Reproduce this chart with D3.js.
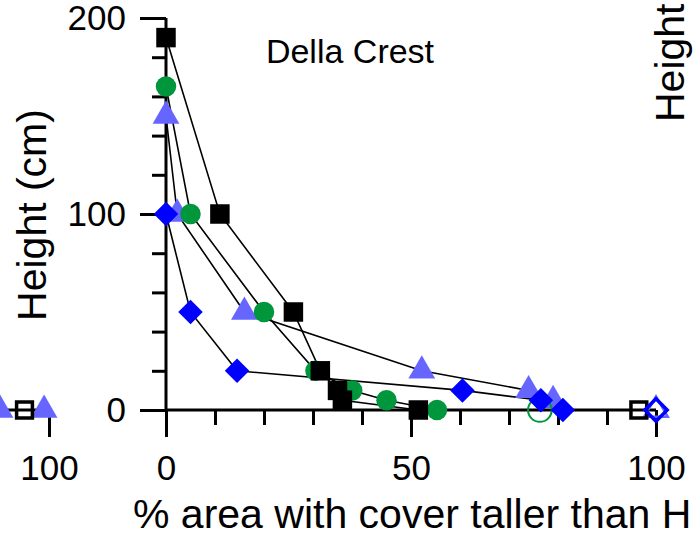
<!DOCTYPE html>
<html>
<head>
<meta charset="utf-8">
<script src="https://cdn.jsdelivr.net/npm/d3@7"></script>
<style>
body { margin: 0; background: white; }
svg { display: block; font-family: "Liberation Sans", Arial, sans-serif; }
</style>
</head>
<body>
<svg width="698" height="538"></svg>
<script>
// % area with cover taller than H, at each height H (cm)
var blackPct   = [[0,190],[11,100],[26,50],[31.5,20],[35,10],[36,5],[51.5,0]];
var greenPct   = [[0,165],[5,100],[20,50],[30.5,20],[38,10],[45,5],[55.3,0]];
var trianglePct = [[0,150],[2.3,100],[16,50],[52.2,20],[74,10],[79,5]];
var diamondPct = [[0,100],[5,50],[14.5,20],[60.5,10],[76.5,5],[81,0]];
// open symbols (not joined)
var blackOpen = [[96.5,0]];
var greenOpen = [[76.3,0]];
var triangleOpen = [[100,0]];
var diamondOpen = [[100,0]];
// neighbouring panel, cut off at the left edge
var leftSquareOpen = [[95,0]];
var leftTriangle = [[90,0],[99,0]];

var xTicks = [0, 50, 100];
var yTicks = [0, 100, 200];
var title = "Della Crest";

var svg = d3.select("svg");
var x = d3.scaleLinear().domain([0,100]).range([166,656]);
var y = d3.scaleLinear().domain([0,200]).range([410,18]);
var xLeft = d3.scaleLinear().domain([0,100]).range([49-490,49]);

var colors = {black:"#000000", green:"#00963c", tri:"#6666ff", dia:"#0000ff"};

// axes
function styleAxis(g){
	g.select(".domain").remove();
	g.selectAll(".tick line").attr("stroke","black").attr("stroke-width",3);
	g.selectAll(".tick text").attr("font-size",35).attr("fill","black")
		.attr("font-family","Liberation Sans, Arial, sans-serif");
}

svg.append("g").attr("transform","translate(0,410)")
	.call(d3.axisBottom(x).tickValues([10,20,30,40,60,70,80,90]).tickSize(15).tickFormat(""))
	.call(styleAxis);
svg.append("g").attr("transform","translate(0,410)")
	.call(d3.axisBottom(x).tickValues(xTicks).tickSize(27).tickPadding(18))
	.call(styleAxis);
svg.append("g").attr("transform","translate(166,0)")
	.call(d3.axisLeft(y).tickValues([20,40,60,80,120,140,160,180]).tickSize(14).tickFormat(""))
	.call(styleAxis);
svg.append("g").attr("transform","translate(166,0)")
	.call(d3.axisLeft(y).tickValues(yTicks).tickSize(26).tickPadding(14))
	.call(styleAxis);

svg.append("line").attr("x1",x(0)).attr("x2",x(100)).attr("y1",y(0)).attr("y2",y(0))
	.attr("stroke","black").attr("stroke-width",3);
svg.append("line").attr("x1",x(0)).attr("x2",x(0)).attr("y1",y(200)).attr("y2",y(0))
	.attr("stroke","black").attr("stroke-width",3);

// left neighbour axis piece
svg.append("g").attr("transform","translate(0,410)")
	.call(d3.axisBottom(xLeft).tickValues([100]).tickSize(27).tickPadding(18))
	.call(styleAxis);
svg.append("line").attr("x1",0).attr("x2",xLeft(100)).attr("y1",y(0)).attr("y2",y(0))
	.attr("stroke","black").attr("stroke-width",3);

// labels
svg.append("text").attr("x",350).attr("y",63).attr("text-anchor","middle")
	.attr("font-size",34).text(title);
svg.append("text").attr("x",133).attr("y",528).attr("font-size",41)
	.text("% area with cover taller than H");
svg.append("text").attr("transform","translate(46,215) rotate(-90)")
	.attr("text-anchor","middle").attr("font-size",41).text("Height (cm)");
svg.append("text").attr("transform","translate(684,122) rotate(-90)")
	.attr("font-size",41).text("Height");

// lines
var line = d3.line().x(d => x(d[0])).y(d => y(d[1]));
[blackPct, greenPct, trianglePct, diamondPct].forEach(function(s){
	svg.append("path").attr("d", line(s)).attr("fill","none")
		.attr("stroke","black").attr("stroke-width",1.6);
});

function sym(type, size){ return d3.symbol().type(type).size(size)(); }

function drawPts(data, sx, shape, size, fill, stroke, sw){
	svg.append("g").selectAll("path").data(data).enter().append("path")
		.attr("transform", d => "translate(" + sx(d[0]) + "," + y(d[1]) + ")" + (shape==="dia" ? " rotate(45)" : ""))
		.attr("d", shape==="dia" ? sym(d3.symbolSquare, size) : sym(shape, size))
		.attr("fill", fill).attr("stroke", stroke).attr("stroke-width", sw);
}

drawPts(trianglePct, x, d3.symbolTriangle, 310, colors.tri, "none", 0);
drawPts(leftTriangle, xLeft, d3.symbolTriangle, 310, colors.tri, "none", 0);
drawPts(triangleOpen, x, d3.symbolTriangle, 240, "none", colors.tri, 2.5);
drawPts(greenPct, x, d3.symbolCircle, 330, colors.green, "none", 0);
drawPts(greenOpen, x, d3.symbolCircle, 440, "none", colors.green, 2);
drawPts(blackPct, x, d3.symbolSquare, 380, colors.black, "none", 0);
drawPts(blackOpen, x, d3.symbolSquare, 250, "none", colors.black, 3.5);
drawPts(leftSquareOpen, xLeft, d3.symbolSquare, 250, "none", colors.black, 3.5);
drawPts(diamondPct, x, "dia", 300, colors.dia, "none", 0);
drawPts(diamondOpen, x, "dia", 250, "none", colors.dia, 3.5);
</script>
</body>
</html>
